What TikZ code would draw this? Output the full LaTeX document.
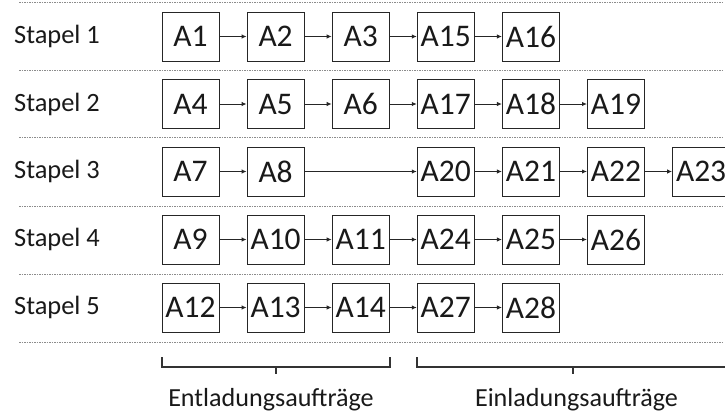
\documentclass[tikz,border=0pt]{standalone}
\usepackage{fontspec}
\setmainfont{Carlito}
\usetikzlibrary{arrows.meta}
\begin{document}
\begin{tikzpicture}[x=1pt,y=-1pt,
  job/.style={draw=black!85,line width=1pt,minimum width=57pt,minimum height=49pt,inner sep=0pt,font=\fontsize{31.5}{34}\selectfont,text=black!90},
  stk/.style={anchor=west,inner sep=0pt,font=\fontsize{26.4}{29}\selectfont,text=black!90},
  lab/.style={inner sep=0pt,font=\fontsize{26.1}{29}\selectfont,text=black!90},
  flow/.style={line width=1pt,draw=black!85,-{Latex[length=5pt,width=4.5pt]}},
  sep/.style={draw=black!45,line width=0.7pt,dash pattern=on 1.6pt off 0.9pt},
  brk/.style={draw=black!80,line width=1.1pt}]
\useasboundingbox (0,0) rectangle (725,416);
\clip (0,0) rectangle (725,416);
% separators
\foreach \y/\n in {2/s0,70/s1,137.5/s2,206/s3,274/s4,342/s5}{
  \coordinate (\n a) at (19,\y); \coordinate (\n b) at (723,\y);
  \draw[sep] (\n a) -- (\n b);
}
% stack labels
\node[stk] (st1) at (14,36.5) {Stapel 1};
\node[stk] (st2) at (14,104) {Stapel 2};
\node[stk] (st3) at (14,171.5) {Stapel 3};
\node[stk] (st4) at (14,239.5) {Stapel 4};
\node[stk] (st5) at (14,307.5) {Stapel 5};
% row 1
\node[job] (a1) at (190.5,36.5) {A1};
\node[job] (a2) at (275.6,36.5) {A2};
\node[job] (a3) at (360.7,36.5) {A3};
\node[job] (a15) at (445.8,36.5) {A15};
\node[job] (a16) at (530.9,36.5) {A16};
% row 2
\node[job] (a4) at (190.5,104) {A4};
\node[job] (a5) at (275.6,104) {A5};
\node[job] (a6) at (360.7,104) {A6};
\node[job] (a17) at (445.8,104) {A17};
\node[job] (a18) at (530.9,104) {A18};
\node[job] (a19) at (616,104) {A19};
% row 3
\node[job] (a7) at (190.5,171.5) {A7};
\node[job] (a8) at (275.6,171.5) {A8};
\node[job] (a20) at (445.8,171.5) {A20};
\node[job] (a21) at (530.9,171.5) {A21};
\node[job] (a22) at (616,171.5) {A22};
\node[job] (a23) at (701.1,171.5) {A23};
% row 4
\node[job] (a9) at (190.5,239.5) {A9};
\node[job] (a10) at (275.6,239.5) {A10};
\node[job] (a11) at (360.7,239.5) {A11};
\node[job] (a24) at (445.8,239.5) {A24};
\node[job] (a25) at (530.9,239.5) {A25};
\node[job] (a26) at (616,239.5) {A26};
% row 5
\node[job] (a12) at (190.5,307.5) {A12};
\node[job] (a13) at (275.6,307.5) {A13};
\node[job] (a14) at (360.7,307.5) {A14};
\node[job] (a27) at (445.8,307.5) {A27};
\node[job] (a28) at (530.9,307.5) {A28};
% arrows
\draw[flow] (a1) -- (a2); \draw[flow] (a2) -- (a3); \draw[flow] (a3) -- (a15); \draw[flow] (a15) -- (a16);
\draw[flow] (a4) -- (a5); \draw[flow] (a5) -- (a6); \draw[flow] (a6) -- (a17); \draw[flow] (a17) -- (a18); \draw[flow] (a18) -- (a19);
\draw[flow] (a7) -- (a8); \draw[flow] (a8) -- (a20); \draw[flow] (a20) -- (a21); \draw[flow] (a21) -- (a22); \draw[flow] (a22) -- (a23);
\draw[flow] (a9) -- (a10); \draw[flow] (a10) -- (a11); \draw[flow] (a11) -- (a24); \draw[flow] (a24) -- (a25); \draw[flow] (a25) -- (a26);
\draw[flow] (a12) -- (a13); \draw[flow] (a13) -- (a14); \draw[flow] (a14) -- (a27); \draw[flow] (a27) -- (a28);
% brackets
\coordinate (e1) at (162,357); \coordinate (e2) at (390,357); \coordinate (em) at (276,367); \coordinate (et) at (276,374);
\draw[brk] (e1) -- (162,367) -- (390,367) -- (e2);
\draw[brk] (em) -- (et);
\coordinate (i1) at (417,357); \coordinate (im) at (573,367); \coordinate (it) at (573,374);
\draw[brk] (i1) -- (417,367) -- (726,367);
\draw[brk] (im) -- (it);
\node[lab] (ent) at (271,400) {Entladungsaufträge};
\node[lab] (ein) at (576.5,400) {Einladungsaufträge};
\end{tikzpicture}
\end{document}
